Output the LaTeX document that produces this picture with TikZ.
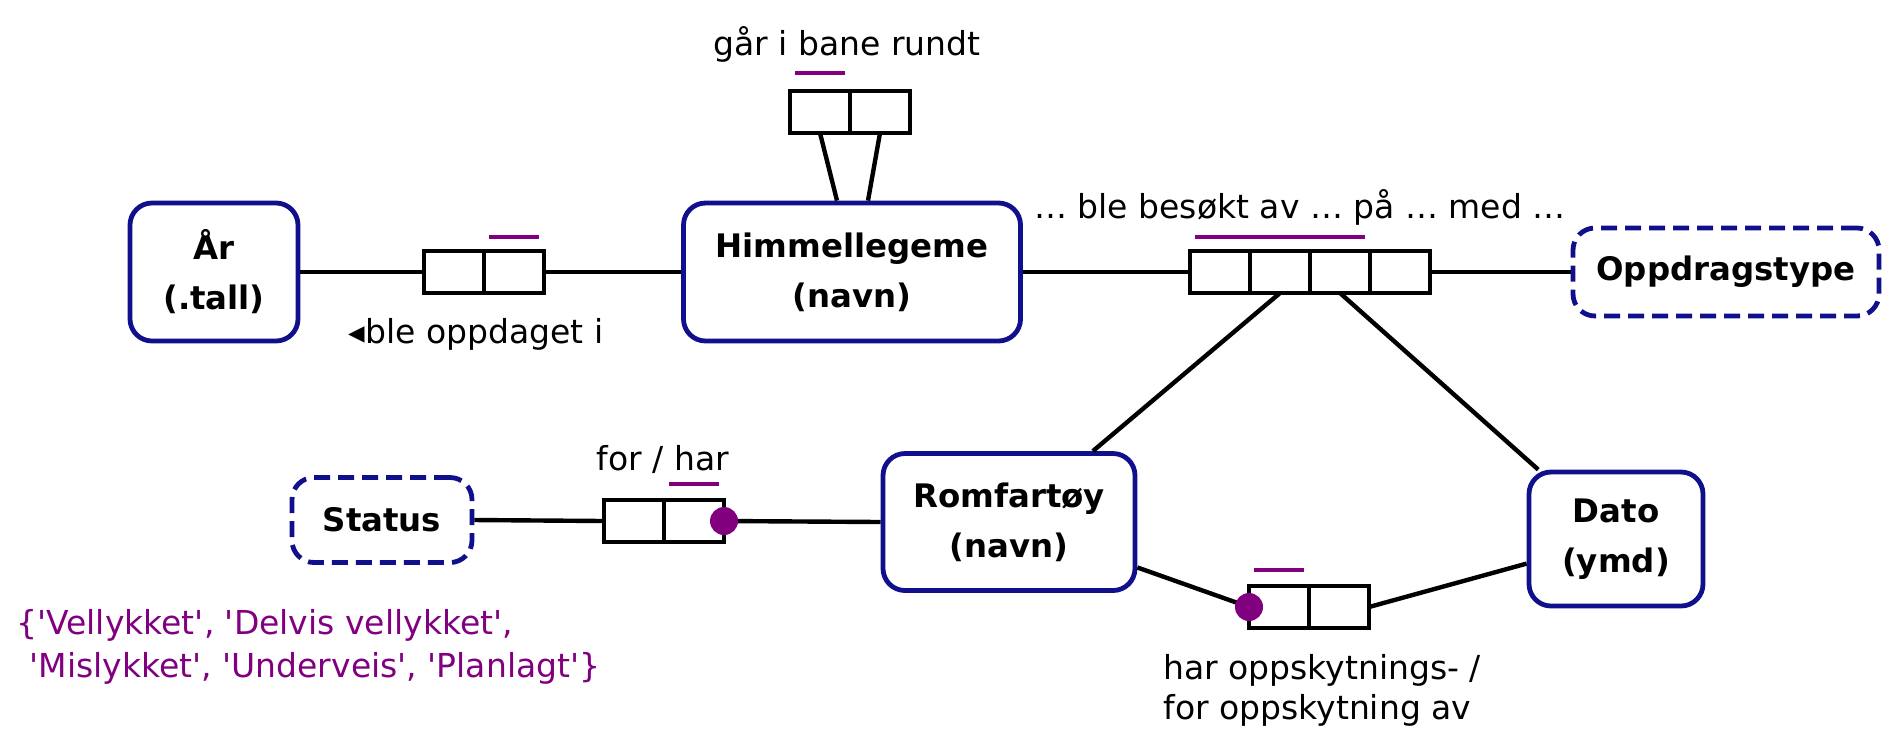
\documentclass[tikz,border=0pt]{standalone}
\usepackage{fontspec}
\setmainfont{DejaVu Sans}
\usepackage{tikz}
\usetikzlibrary{positioning}
\definecolor{ormblue}{RGB}{16,16,140}
\definecolor{ormpurple}{RGB}{128,0,128}
\newcommand{\sq}{\textquotesingle}

\tikzset{
  entity/.style={draw=ormblue, line width=2.4pt, rounded corners=11pt, align=center, inner sep=0pt,
    font=\fontsize{16.2}{25}\selectfont\bfseries},
  valuetype/.style={entity, dash pattern=on 8pt off 4pt},
  cell/.style={draw, line width=2.2pt, minimum width=30pt, minimum height=21pt, inner sep=0pt, outer sep=0pt},
  conn/.style={line width=2.2pt},
  uc/.style={draw=ormpurple, line width=2.3pt, shorten <=2.5pt, shorten >=2.5pt},
  mand/.style={circle, fill=ormpurple, inner sep=0pt, minimum size=14pt},
  lbl/.style={font=\fontsize{16.5}{20}\selectfont, inner sep=0pt}
}

\begin{document}
\begin{tikzpicture}[x=0.5pt, y=-0.5pt]
	\useasboundingbox (0,0) rectangle (1883,730);
	% entity types
	\node[entity, minimum width=84pt, minimum height=69pt] (aar) at (214,272) {År\\(.tall)};
	\node[entity, minimum width=168.5pt, minimum height=69pt] (himmel) at (852,272) {Himmellegeme\\(navn)};
	\node[valuetype, minimum width=153pt, minimum height=44pt] (opptype) at (1726,272) {Oppdragstype};
	\node[entity, minimum width=126pt, minimum height=68.5pt] (romf) at (1009,522) {Romfartøy\\(navn)};
	\node[entity, minimum width=87pt, minimum height=67pt] (dato) at (1616,539) {Dato\\(ymd)};
	\node[valuetype, minimum width=90pt, minimum height=42.5pt] (status) at (382,520) {Status};
	% roles
	\node[cell] (r1a) at (454,272) {};
	\node[cell, right=0pt of r1a] (r1b) {};
	\node[cell] (ringa) at (820,112) {};
	\node[cell, right=0pt of ringa] (ringb) {};
	\node[cell] (qa) at (1220,272) {};
	\node[cell, right=0pt of qa] (qb) {};
	\node[cell, right=0pt of qb] (qc) {};
	\node[cell, right=0pt of qc] (qd) {};
	\node[cell] (rsa) at (634,521) {};
	\node[cell, right=0pt of rsa] (rsb) {};
	\node[cell] (rla) at (1279,607) {};
	\node[cell, right=0pt of rla] (rlb) {};
	% connectors
	\draw[conn] (aar.east) -- (r1a.west);
	\draw[conn] (r1b.east) -- (himmel.west);
	\draw[conn] (ringa.south) -- ([xshift=-7.5pt]himmel.north);
	\draw[conn] (ringb.south) -- ([xshift=8pt]himmel.north);
	\draw[conn] (himmel.east) -- (qa.west);
	\draw[conn] (qd.east) -- (opptype.west);
	\draw[conn] (qb.south) -- (romf);
	\draw[conn] (qc.south) -- (dato);
	\draw[conn] (status.east) -- (rsa.west);
	\draw[conn] (rsb.east) -- (romf.west);
	\draw[conn] (romf) -- (rla.west);
	\draw[conn] (rlb.east) -- (dato);
	% uniqueness
	\draw[uc] ([yshift=7pt]r1b.north west) -- ([yshift=7pt]r1b.north east);
	\draw[uc] ([yshift=9pt]ringa.north west) -- ([yshift=9pt]ringa.north east);
	\draw[uc] ([yshift=7pt]qa.north west) -- ([yshift=7pt]qc.north east);
	\draw[uc] ([yshift=8pt]rsb.north west) -- ([yshift=8pt]rsb.north east);
	\draw[uc] ([yshift=8pt]rla.north west) -- ([yshift=8pt]rla.north east);
	% mandatory
	\node[mand] (m1) at (rsb.east) {};
	\node[mand] (m2) at (rla.west) {};
	% readings
	\node[lbl] (lbl1) at (476,334) {◂ble oppdaget i};
	\node[lbl] (lbl2) at (847,44) {går i bane rundt};
	\node[lbl] (lbl3) at (1300,207) {… ble besøkt av … på … med …};
	\node[lbl] (lbl4) at (663,459) {for / har};
	\node[lbl, align=left, anchor=west] (lbl5) at (1163,690) {har oppskytnings- /\\for oppskytning av};
	\node[lbl, align=left, anchor=west, text=ormpurple, font=\fontsize{16.5}{21.5}\selectfont] (vals) at (16,647)
		{\{\sq Vellykket\sq, \sq Delvis vellykket\sq,\\\hspace*{0.4em}\sq Mislykket\sq, \sq Underveis\sq, \sq Planlagt\sq\}};
\end{tikzpicture}
\end{document}
